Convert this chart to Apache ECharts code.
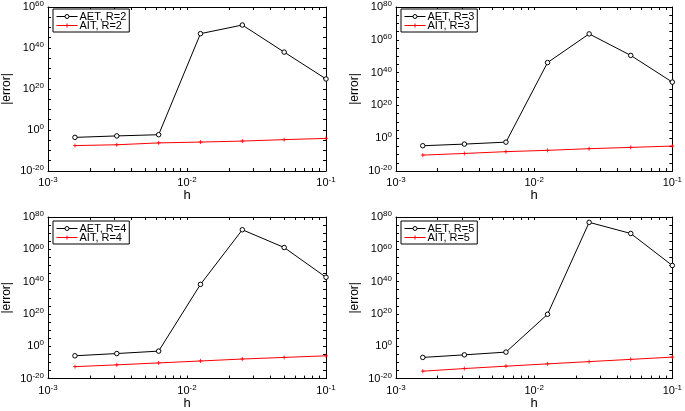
<!DOCTYPE html>
<html>
<head>
<meta charset="utf-8">
<script src="https://cdn.jsdelivr.net/npm/echarts@6/dist/echarts.min.js"></script>
<style>
html,body{margin:0;padding:0;background:#fff;}
#c{width:685px;height:411px;}
</style>
</head>
<body>
<div id="c"></div>
<script>
// step sizes
var h = [0.0015625, 0.003125, 0.00625, 0.0125, 0.025, 0.05, 0.1];

// |error| for R=2..5
var aetR2 = [2.5e-4, 1.3e-3, 5e-3, 1e47, 1.6e51, 1e38, 8e24];
var aitR2 = [2.5e-8, 6.3e-8, 5e-7, 1.3e-6, 4e-6, 2e-5, 8e-5];
var aetR3 = [2.5e-5, 2.5e-4, 4e-3, 1.3e46, 4e63, 3e50, 1.6e34];
var aitR3 = [5e-11, 5e-10, 6.3e-9, 4e-8, 4e-7, 2.5e-6, 1.6e-5];
var aetR4 = [1.3e-6, 3.2e-5, 1e-3, 2e38, 1.3e72, 1.3e61, 5e42];
var aitR4 = [2.5e-13, 3.2e-12, 5e-11, 8e-10, 1.3e-8, 1.3e-7, 1.3e-6];
var aetR5 = [1.3e-7, 5e-6, 2.5e-4, 6.3e19, 5e76, 6.3e69, 1e50];
var aitR5 = [4e-16, 1.6e-14, 5e-13, 1.3e-11, 3.2e-10, 8e-9, 2e-7];

var panelNames = ['R=2', 'R=3', 'R=4', 'R=5'];

// tick labels / tick positions
var xLabels = [1e-3, 1e-2, 1e-1];
var xTicks = [0.001,0.002,0.003,0.004,0.005,0.006,0.007,0.008,0.009,
              0.01,0.02,0.03,0.04,0.05,0.06,0.07,0.08,0.09,0.1];
var yLabels60 = [1e-20, 1e0, 1e20, 1e40, 1e60];
var yLabels80 = [1e-20, 1e0, 1e20, 1e40, 1e60, 1e80];
var yTicks60 = [1e-20,1e-15,1e-10,1e-5,1e0,1e5,1e10,1e15,1e20,1e25,1e30,1e35,1e40,1e45,1e50,1e55,1e60];
var yTicks80 = [1e-20,1e-15,1e-10,1e-5,1e0,1e5,1e10,1e15,1e20,1e25,1e30,1e35,1e40,1e45,1e50,1e55,1e60,1e65,1e70,1e75,1e80];
var yMin = 1e-20;
var yMax = [1e60, 1e80, 1e80, 1e80];
var xMin = 1e-3, xMax = 1e-1;

var aet = [aetR2, aetR3, aetR4, aetR5];
var ait = [aitR2, aitR3, aitR4, aitR5];

var FONT = 'Liberation Sans, Arial, Helvetica, sans-serif';

function pairs(xs, ys){ return xs.map(function(x,i){ return [x, ys[i]]; }); }
// keep end values safely inside the axis extent (floating point)
function inside(arr, lo, hi){
  return arr.map(function(v){
    if (v >= hi * (1 - 1e-9)) return hi * (1 - 1e-9);
    if (v <= lo * (1 + 1e-9)) return lo * (1 + 1e-9);
    return v;
  });
}
function powFmt(v){
  var e = Math.round(Math.log10(v));
  return '{b|10}{s|' + e + '}';
}
var rich = {
  b: {fontSize: 11, fontFamily: FONT, color: '#000'},
  s: {fontSize: 8, fontFamily: FONT, color: '#000', padding: [0,0,6,0]}
};

var grids = [
  {left: 48, top: 5, width: 278, height: 166},
  {left: 396, top: 5, width: 278, height: 166},
  {left: 48, top: 217, width: 278, height: 164},
  {left: 396, top: 217, width: 278, height: 164}
];

var xAxes = [], yAxes = [], series = [], legends = [];
grids.forEach(function(g, i){
  var yl = inside(i === 0 ? yLabels60 : yLabels80, yMin, yMax[i]);
  var yt = inside(i === 0 ? yTicks60 : yTicks80, yMin, yMax[i]);
  var xl = inside(xLabels, xMin, xMax), xt = inside(xTicks, xMin, xMax);
  xAxes.push({
    type: 'log', logBase: 10, gridIndex: i, min: xMin, max: xMax, position: 'bottom',
    name: 'h', nameLocation: 'middle', nameGap: 16,
    nameTextStyle: {fontSize: 13, fontFamily: FONT, color: '#000'},
    axisLine: {show: true, onZero: false, lineStyle: {color: '#000', width: 1}},
    axisTick: {show: true, inside: true, length: 3, customValues: xt, lineStyle: {color: '#000', width: 1}},
    axisLabel: {show: true, customValues: xl, formatter: powFmt, rich: rich, margin: 5, showMaxLabel: true, showMinLabel: true},
    splitLine: {show: false}, minorTick: {show: false}
  });
  xAxes.push({
    type: 'log', logBase: 10, gridIndex: i, min: xMin, max: xMax, position: 'top',
    axisLine: {show: true, onZero: false, lineStyle: {color: '#000', width: 1}},
    axisTick: {show: true, inside: true, length: 3, customValues: xt, lineStyle: {color: '#000', width: 1}},
    axisLabel: {show: false}, splitLine: {show: false}
  });
  yAxes.push({
    type: 'log', logBase: 10, gridIndex: i, min: yMin, max: yMax[i], position: 'left',
    name: '|error|', nameLocation: 'middle', nameGap: 35,
    nameTextStyle: {fontSize: 12, fontFamily: FONT, color: '#000'},
    axisLine: {show: true, onZero: false, lineStyle: {color: '#000', width: 1}},
    axisTick: {show: true, inside: true, length: 3, customValues: yt, lineStyle: {color: '#000', width: 1}},
    axisLabel: {show: true, customValues: yl, formatter: powFmt, rich: rich, margin: 4, showMaxLabel: true, showMinLabel: true},
    splitLine: {show: false}
  });
  yAxes.push({
    type: 'log', logBase: 10, gridIndex: i, min: yMin, max: yMax[i], position: 'right',
    axisLine: {show: true, onZero: false, lineStyle: {color: '#000', width: 1}},
    axisTick: {show: true, inside: true, length: 3, customValues: yt, lineStyle: {color: '#000', width: 1}},
    axisLabel: {show: false}, splitLine: {show: false}
  });
  var n1 = 'AET, ' + panelNames[i], n2 = 'AIT, ' + panelNames[i];
  series.push({
    name: n1, type: 'line', xAxisIndex: 2*i, yAxisIndex: 2*i,
    data: pairs(h, aet[i]), symbol: 'circle', symbolSize: 4.5, showAllSymbol: true,
    lineStyle: {color: '#000', width: 1}, itemStyle: {color: '#fff', borderColor: '#000', borderWidth: 1},
    animation: false, z: 3
  });
  series.push({
    name: n2, type: 'line', xAxisIndex: 2*i, yAxisIndex: 2*i,
    data: pairs(h, ait[i]), symbol: 'path://M5,0L5,10M0,5L10,5', symbolSize: 4, showAllSymbol: true,
    lineStyle: {color: '#ff0000', width: 1}, itemStyle: {color: '#ff0000', borderColor: '#ff0000', borderWidth: 0.8},
    animation: false, z: 3
  });
  legends.push({
    data: [n1, n2], orient: 'vertical', left: g.left + 5, top: g.top + 4,
    itemWidth: 21, itemHeight: 5, itemGap: -2,
    padding: [2, 3, 1, 3],
    borderColor: '#000', borderWidth: 1, backgroundColor: '#fff',
    lineStyle: {width: 1},
    itemStyle: {borderWidth: 1},
    textStyle: {fontSize: 11, fontFamily: FONT, color: '#000', padding: [0,0,0,-3]},
    selectedMode: false
  });
});

var chart = echarts.init(document.getElementById('c'), null, {renderer: 'canvas'});
chart.setOption({
  animation: false,
  backgroundColor: '#fff',
  grid: grids.map(function(g){ return Object.assign({containLabel: false}, g); }),
  xAxis: xAxes, yAxis: yAxes, series: series, legend: legends
});
</script>
</body>
</html>
